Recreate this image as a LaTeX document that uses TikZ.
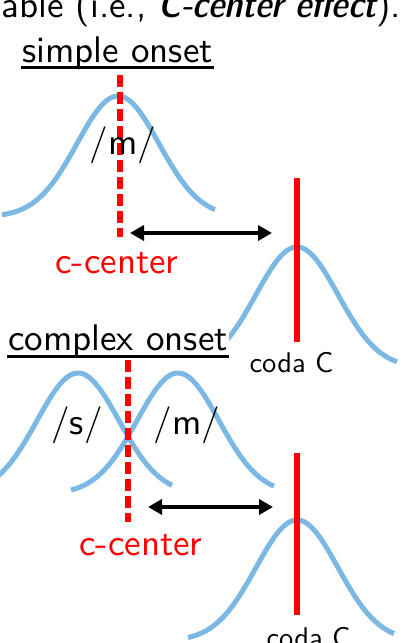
\documentclass[tikz,border=0pt]{standalone}
\usepackage{xcolor}
\usepackage{tikz}
\usetikzlibrary{arrows.meta, calc}

\definecolor{gestblue}{RGB}{124,184,228}
\tikzset{
  gesture/.style={gestblue, line width=5pt},
  coda line/.style={red, line width=6pt},
  cc line/.style={red, line width=6pt, dash pattern=on 12pt off 5pt},
  lag/.style={{Triangle[length=14pt,width=15pt]}-{Triangle[length=14pt,width=15pt]}, line width=4pt},
  heading/.style={font=\sffamily\fontsize{10}{12}\selectfont, scale=3.7, inner sep=0pt},
  codalabel/.style={font=\sffamily\fontsize{10}{12}\selectfont, scale=2.85, inner sep=0pt},
}

\begin{document}
\begin{tikzpicture}[x=1pt, y=-1pt]
    \useasboundingbox (0,0) rectangle (404,643);
    \clip (0,0) rectangle (404,643);

    \node[heading, anchor=base east] (intro) at (402,17) {able (i.e., {\fontseries{sbc}\itshape C-center effect}).};

    \foreach \px/\py/\dl/\dr in {
        118/96/-116/97,
        297/247/-100/100,
        78/373/-100/94,
        178/373/-107/96,
        297/520/-109/97
    }{
        \draw[gesture, shift={(\px,\py+121)}] plot[domain=\dl:\dr, samples=80, smooth] (\x, {-121*exp(-0.5*(\x/41)*(\x/41))});
    }

    \node[heading, anchor=base] (simple) at (117.5,62) {simple onset};
    \node[heading, anchor=base, fill=white, inner xsep=0.3pt, inner ysep=2.2pt] (complex) at (118,350) {complex onset};
    \draw[line width=2.5pt] ($(simple.base west)+(0,5.5)$) -- ($(simple.base east)+(0,5.5)$);
    \draw[line width=2.5pt] ($(complex.base west)+(1,6.5)$) -- ($(complex.base east)+(-1,6.5)$);

    \coordinate (cc1 top) at (120,75);
    \coordinate (cc1 bot) at (120,237);
    \coordinate (cc2 top) at (128,360);
    \coordinate (cc2 bot) at (128,522);
    \coordinate (coda1 top) at (297,178);
    \coordinate (coda1 bot) at (297,342);
    \coordinate (coda2 top) at (297,453);
    \coordinate (coda2 bot) at (297,615);

    \draw[cc line] (cc1 top) -- (cc1 bot);
    \draw[cc line] (cc2 top) -- (cc2 bot);
    \draw[coda line] (coda1 top) -- (coda1 bot);
    \draw[coda line] (coda2 top) -- (coda2 bot);

    \coordinate (lag1 l) at (130,233);
    \coordinate (lag1 r) at (272,233);
    \coordinate (lag2 l) at (148,507);
    \coordinate (lag2 r) at (273,507);
    \draw[lag] (lag1 l) -- (lag1 r);
    \draw[lag] (lag2 l) -- (lag2 r);

    \foreach \x/\y/\name/\label in {
        123/145/m1/{/m/},
        77/425/s2/{/s/},
        187/425/m2/{/m/}
    }{
        \node[heading] (\name) at (\x,\y) {\label};
    }

    \node[heading, red, anchor=base] (cc1 label) at (117,273) {c-center};
    \node[heading, red, anchor=base] (cc2 label) at (141,555) {c-center};
    \node[codalabel, anchor=base] (coda1 label) at (291.5,372) {coda C};
    \node[codalabel, anchor=base] (coda2 label) at (308.5,647) {coda C};
\end{tikzpicture}
\end{document}
